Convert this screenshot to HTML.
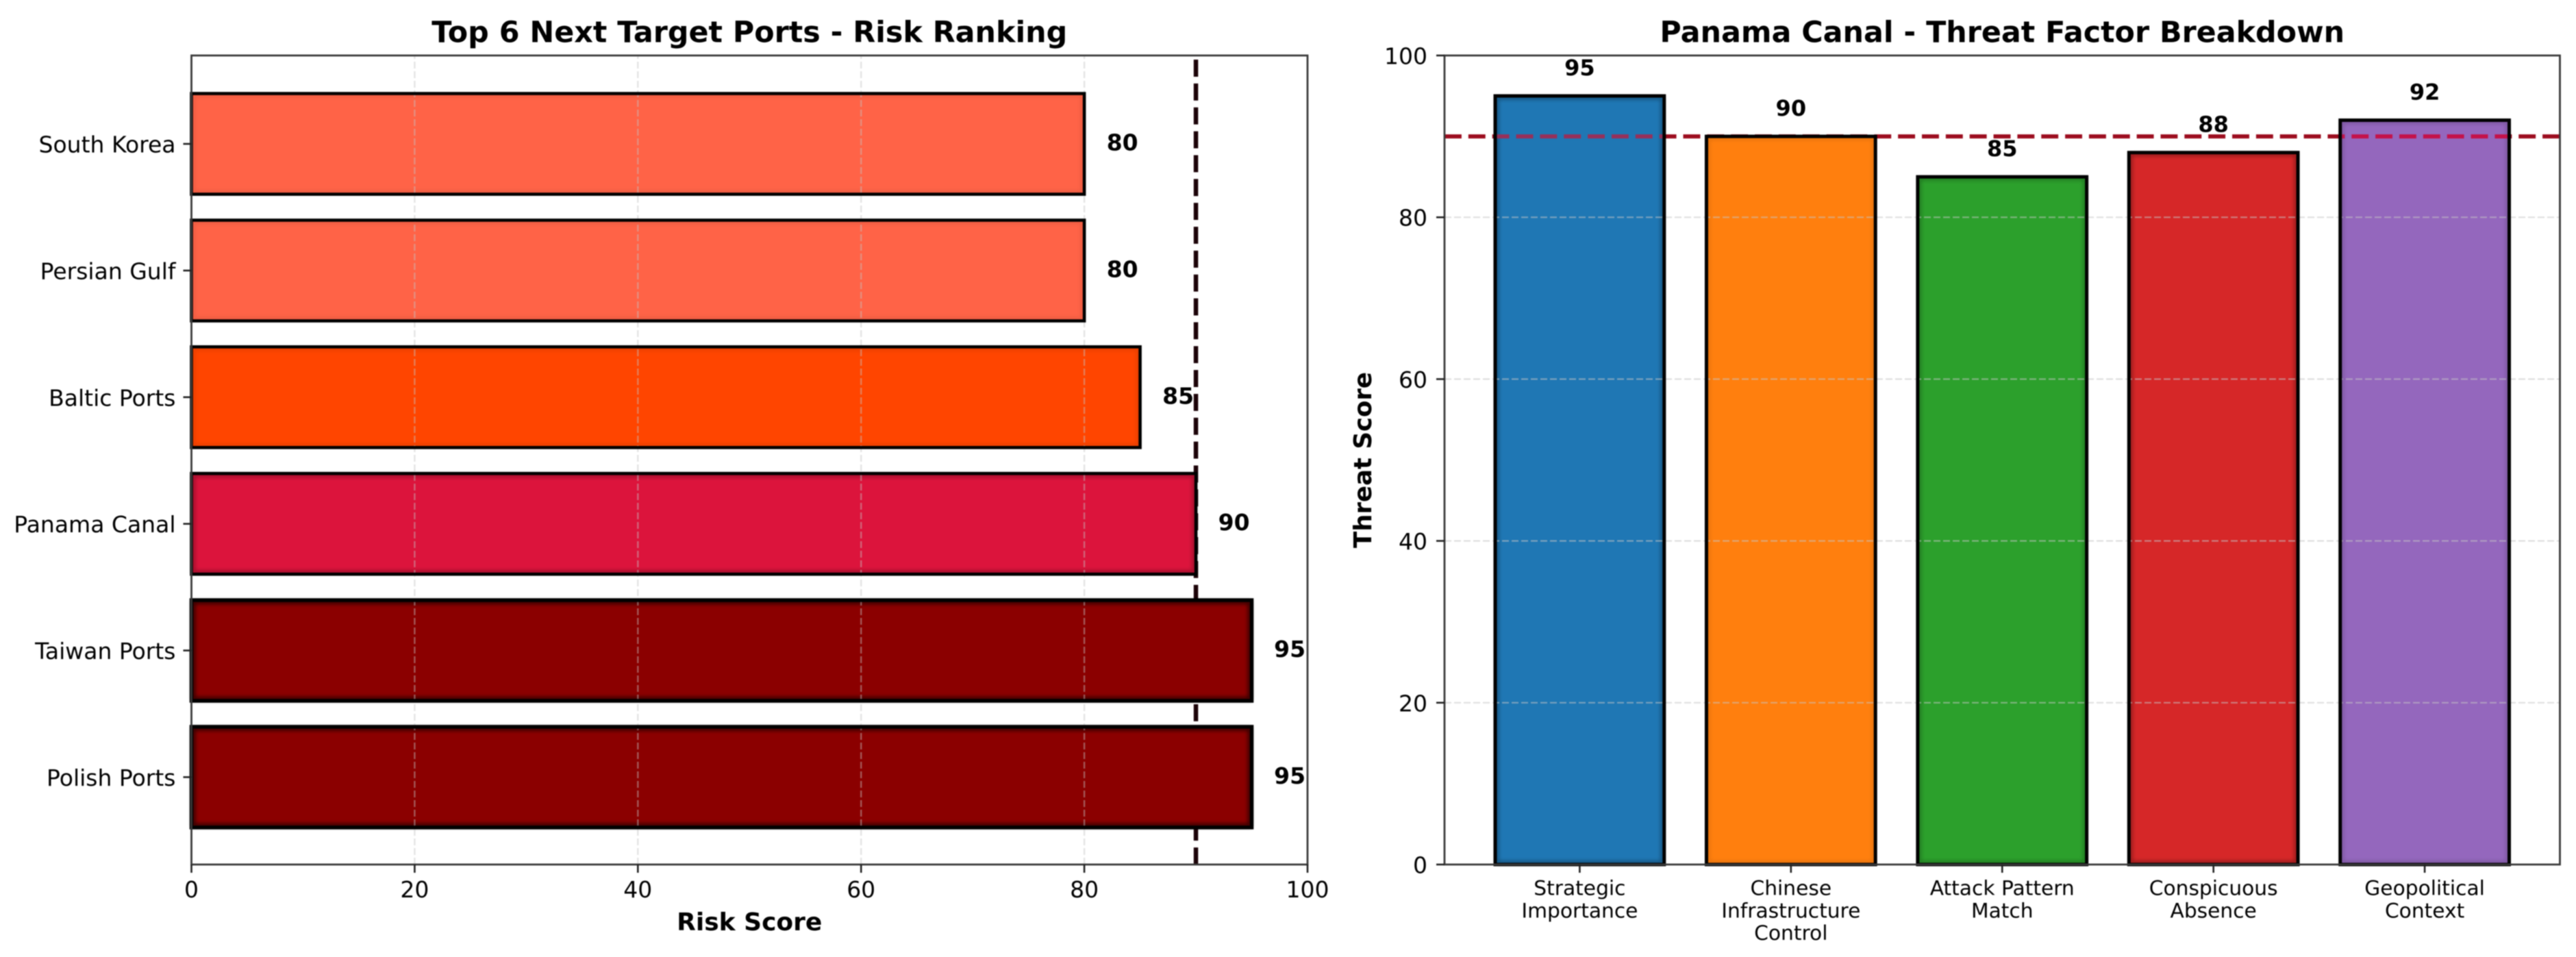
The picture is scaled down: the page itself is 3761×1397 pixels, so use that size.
<!DOCTYPE html>
<html lang="en">
<head>
<meta charset="utf-8">
<title>Next Target Ports and Panama Canal Threat Factors</title>
<style>
  html, body { margin: 0; padding: 0; background: #fff; }
  #figure { display: block; width: 3761px; height: 1397px; filter: blur(0.7px); font-family: "DejaVu Sans", "Liberation Sans", sans-serif; }
</style>
</head>
<body>
<svg id="figure" xmlns="http://www.w3.org/2000/svg" width="3761" height="1397" viewBox="0 0 3761 1397">
  <defs>
    <filter id="soft" x="-5%" y="-20%" width="110%" height="140%"><feGaussianBlur stdDeviation="3"></feGaussianBlur></filter>
  </defs>
  <rect x="0" y="0" width="3761" height="1397" fill="#ffffff"></rect>
  <g id="risk-chart"></g>
  <g id="threat-chart"></g>
</svg>
<script>
// ---- Left chart data (bottom to top) ----
const riskPorts = ["Polish Ports", "Taiwan Ports", "Panama Canal", "Baltic Ports", "Persian Gulf", "South Korea"];
const riskScores = [95, 95, 90, 85, 80, 80];
const riskTicks = [0, 20, 40, 60, 80, 100];
const riskThreshold = 90;
const riskColors = ["#8b0000", "#8b0000", "#dc143c", "#ff4500", "#ff6347", "#ff6347"];
const riskEdgeShade = [0.7, 0.7, 0.3, 0.1, 0.08, 0.08];

// ---- Right chart data ----
const factorLabels = ["Strategic\nImportance", "Chinese\nInfrastructure\nControl", "Attack Pattern\nMatch", "Conspicuous\nAbsence", "Geopolitical\nContext"];
const factorScores = [95, 90, 85, 88, 92];
const threatTicks = [0, 20, 40, 60, 80, 100];
const threatThreshold = 90;
const factorColors = ["#1f77b4", "#ff7f0e", "#2ca02c", "#d62728", "#9467bd"];
const factorEdgeShade = [0.4, 0.12, 0.3, 0.4, 0.2];
const factorLineTint = ["#96305a", "#a30f24", "#7a4a20", "#a30f24", "#c4124a"];

const SVG_NS = "http://www.w3.org/2000/svg";
const add = function (parent, tag, attrs, text) {
  const el = document.createElementNS(SVG_NS, tag);
  for (const k in attrs) el.setAttribute(k, attrs[k]);
  if (text !== undefined) el.textContent = text;
  parent.appendChild(el);
  return el;
};

// ---- Shared frame geometry ----
const plotTop = 81, plotBottom = 1262;
const riskLeft = 279.5, riskRight = 1909;
const threatLeft = 2109, threatRight = 3737.5;

// ---- Left chart ----
(function () {
  const root = document.getElementById("risk-chart");
  const xScale = function (v) { return riskLeft + (v / 100) * (riskRight - riskLeft); };
  const yMin = -0.69, yMax = 5.698;
  const yScale = function (i) { return plotBottom - ((i - yMin) / (yMax - yMin)) * (plotBottom - plotTop); };
  const bandH = (yScale(0) - yScale(1)) * 0.795;

  const thresholdLine = add(root, "line", { x1: xScale(riskThreshold), x2: xScale(riskThreshold), y1: plotBottom, y2: plotTop, stroke: "#1c0308", "stroke-width": 6.5, "stroke-dasharray": "24.9 9.95" });
  
  

  riskPorts.forEach(function (port, i) {
    const x0 = xScale(0), x1 = xScale(riskScores[i]), yc = yScale(i);
    const bar = add(root, "rect", { x: x0, y: yc - bandH / 2, width: x1 - x0, height: bandH, fill: riskColors[i] });
    
    
    const shade = add(root, "rect", { x: x0 + 3, y: yc - bandH / 2 + 3, width: x1 - x0 - 6, height: bandH - 6, fill: "none", stroke: "#000", "stroke-width": 5, "stroke-opacity": riskEdgeShade[i], filter: "url(#soft)" });
    
    
  });

  riskTicks.forEach(function (t) {
    if (t === 0 || t === 100) return;
    const grid = add(root, "line", { x1: xScale(t), x2: xScale(t), y1: plotBottom, y2: plotTop, stroke: "#c4c4c4", "stroke-opacity": 0.45, "stroke-width": 2.4, "stroke-dasharray": "10 4" });
    
    
  });

  riskPorts.forEach(function (port, i) {
    const x0 = xScale(0), x1 = xScale(riskScores[i]), yc = yScale(i);
    const edge = add(root, "rect", { x: x0, y: yc - bandH / 2, width: x1 - x0, height: bandH, fill: "none", stroke: "#000", "stroke-width": riskScores[i] >= 95 ? 5.5 : 4.6 });
    
    
  });

  const frame = add(root, "rect", { x: riskLeft, y: plotTop, width: riskRight - riskLeft, height: plotBottom - plotTop, fill: "none", stroke: "#3a3a3a", "stroke-width": 2.8 });
  
  

  riskTicks.forEach(function (t) {
    const tick = add(root, "line", { x1: xScale(t), x2: xScale(t), y1: plotBottom, y2: plotBottom + 12, stroke: "#222", "stroke-width": 2.6 });
    
    
    const label = add(root, "text", { x: xScale(t), y: plotBottom + 48, "text-anchor": "middle", "font-size": 33, fill: "#000" }, String(t));
    
    
  });

  riskPorts.forEach(function (port, i) {
    const yc = yScale(i);
    const tick = add(root, "line", { x1: riskLeft - 12, x2: riskLeft, y1: yc, y2: yc, stroke: "#222", "stroke-width": 2.6 });
    
    
    const label = add(root, "text", { x: 256.5, y: yc + 12.5, "text-anchor": "end", "font-size": 33, fill: "#000" }, port);
    
    
    const value = add(root, "text", { x: xScale(riskScores[i] + 2), y: yc + 9.5, "font-size": 33, "font-weight": "bold", fill: "#000" }, String(riskScores[i]));
    
    
  });

  const title = add(root, "text", { x: (riskLeft + riskRight) / 2, y: 61.5, "text-anchor": "middle", "font-size": 42.8, "font-weight": "bold", fill: "#000" }, "Top 6 Next Target Ports - Risk Ranking");
  
  
  const xTitle = add(root, "text", { x: (riskLeft + riskRight) / 2, y: 1358, "text-anchor": "middle", "font-size": 36, "font-weight": "bold", fill: "#000" }, "Risk Score");
  
  
})();

// ---- Right chart ----
(function () {
  const root = document.getElementById("threat-chart");
  const xMin = -0.64, xMax = 4.64;
  const xScale = function (i) { return threatLeft + ((i - xMin) / (xMax - xMin)) * (threatRight - threatLeft); };
  const yScale = function (v) { return plotBottom - (v / 100) * (plotBottom - plotTop); };
  const halfBar = (xScale(1) - xScale(0)) * 0.4;
  const lineY = yScale(threatThreshold);
  const lineAttrs = function (color) {
    return { x1: threatLeft, x2: threatRight, y1: lineY, y2: lineY, stroke: color, "stroke-width": 6, "stroke-dasharray": "24.9 9.95" };
  };

  const thresholdLine = add(root, "line", lineAttrs("#9c0c1e"));
  
  

  factorLabels.forEach(function (label, i) {
    const name = label.split("\n")[0].toLowerCase().replace(/ /g, '-');
    const x0 = xScale(i) - halfBar, w = halfBar * 2, y0 = yScale(factorScores[i]), h = plotBottom - y0;
    const bar = add(root, "rect", { x: x0, y: y0, width: w, height: h, fill: factorColors[i] });
    
    
    const shade = add(root, "rect", { x: x0 + 3, y: y0 + 3, width: w - 6, height: h - 6, fill: "none", stroke: "#000", "stroke-width": 4, "stroke-opacity": factorEdgeShade[i], filter: "url(#soft)" });
    
    
    if (factorScores[i] > threatThreshold) {
      const clip = add(root.ownerSVGElement.querySelector("defs"), "clipPath", { id: "clip-bar-" + i });
      add(clip, "rect", { x: x0 + 2.5, y: y0 + 2.5, width: w - 5, height: h - 5 });
      const over = add(root, "line", lineAttrs(factorLineTint[i]));
      over.setAttribute("clip-path", "url(#clip-bar-" + i + ")");
      
      
    }
  });

  threatTicks.forEach(function (t) {
    if (t === 0 || t === 100) return;
    const grid = add(root, "line", { x1: threatLeft, x2: threatRight, y1: yScale(t), y2: yScale(t), stroke: "#c4c4c4", "stroke-opacity": 0.55, "stroke-width": 2.2, "stroke-dasharray": "10 4" });
    
    
  });

  factorLabels.forEach(function (label, i) {
    const x0 = xScale(i) - halfBar, w = halfBar * 2, y0 = yScale(factorScores[i]), h = plotBottom - y0;
    const edge = add(root, "rect", { x: x0, y: y0, width: w, height: h, fill: "none", stroke: "#000", "stroke-width": 5 });
    
    
  });

  const frame = add(root, "rect", { x: threatLeft, y: plotTop, width: threatRight - threatLeft, height: plotBottom - plotTop, fill: "none", stroke: "#3a3a3a", "stroke-width": 2.8 });
  
  

  threatTicks.forEach(function (t) {
    const tick = add(root, "line", { x1: threatLeft - 12, x2: threatLeft, y1: yScale(t), y2: yScale(t), stroke: "#222", "stroke-width": 2.6 });
    
    
    const label = add(root, "text", { x: 2084, y: yScale(t) + 12.5, "text-anchor": "end", "font-size": 33, fill: "#000" }, String(t));
    
    
  });

  factorLabels.forEach(function (label, i) {
    const cx = xScale(i);
    const tick = add(root, "line", { x1: cx, x2: cx, y1: plotBottom, y2: plotBottom + 12, stroke: "#222", "stroke-width": 2.6 });
    
    
    const group = add(root, "text", { "text-anchor": "middle", "font-size": 29.7, fill: "#000" });
    
    
    label.split("\n").forEach(function (line, n) {
      add(group, "tspan", { x: cx, y: 1306.7 + n * 32.7 }, line);
    });
    const value = add(root, "text", { x: cx, y: yScale(factorScores[i]) - 30, "text-anchor": "middle", "font-size": 32, "font-weight": "bold", fill: "#000" }, String(factorScores[i]));
    
    
  });

  const title = add(root, "text", { x: (threatLeft + threatRight) / 2, y: 61.5, "text-anchor": "middle", "font-size": 42.8, "font-weight": "bold", fill: "#000" }, "Panama Canal - Threat Factor Breakdown");
  
  
  const yTitle = add(root, "text", { transform: "translate(2002 671.5) rotate(-90)", "text-anchor": "middle", "font-size": 35.5, "font-weight": "bold", fill: "#000" }, "Threat Score");
  
  
})();
</script>
</body>
</html>
